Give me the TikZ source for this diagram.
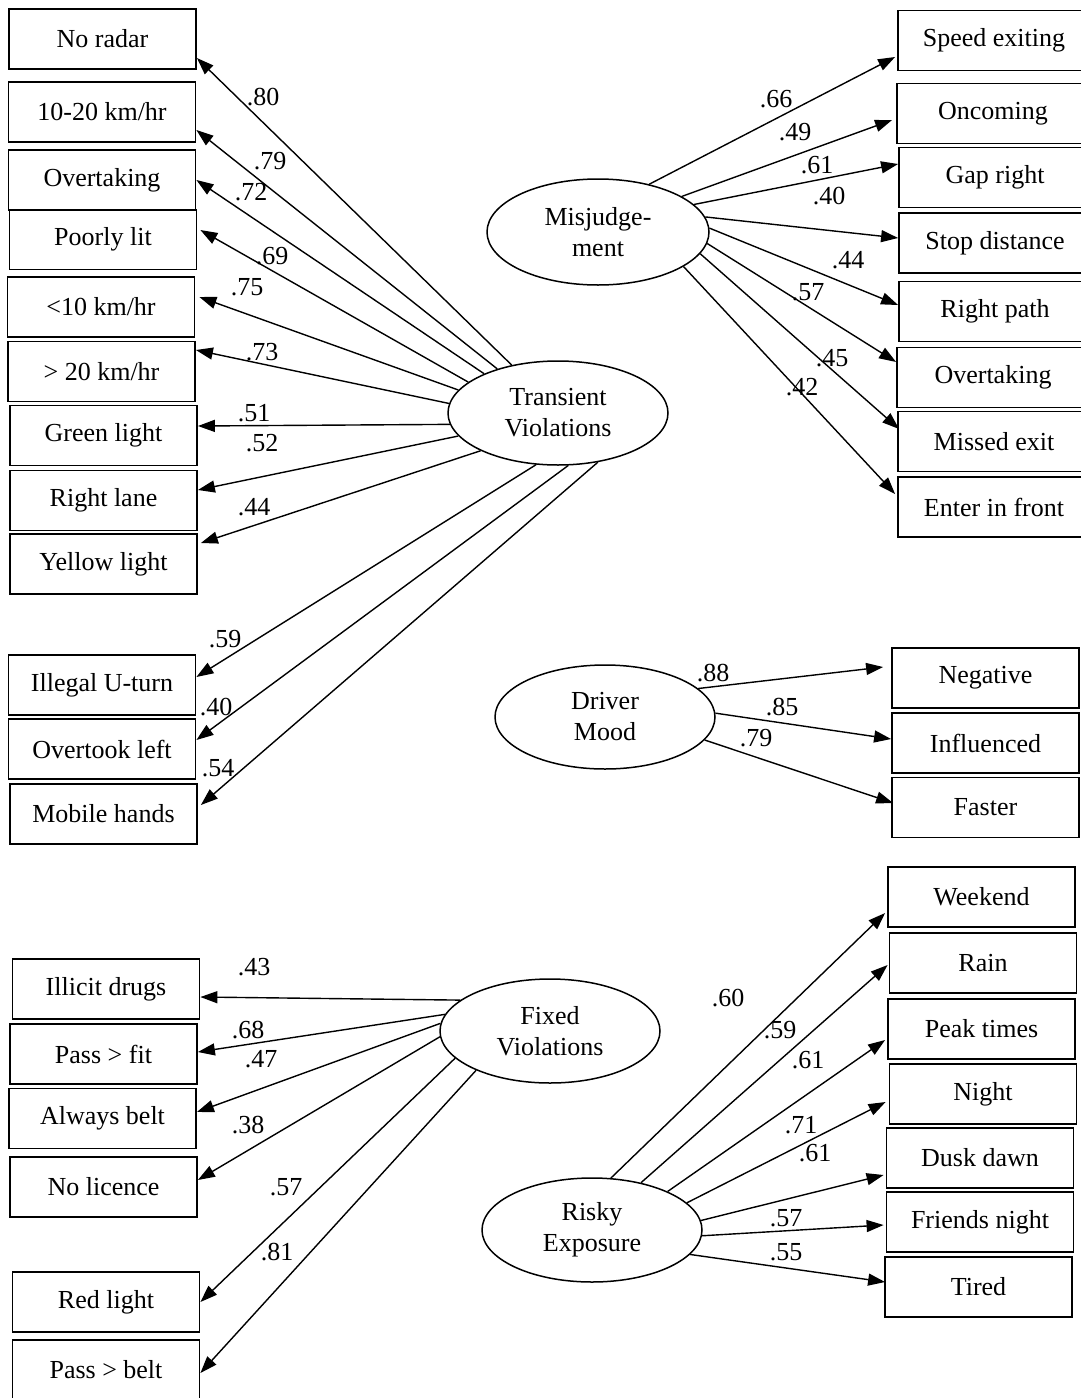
\documentclass[tikz,border=0pt]{standalone}
\usepackage{fontspec}
\setmainfont{Liberation Serif}
\usetikzlibrary{arrows.meta,shapes.geometric}
\begin{document}
\begin{tikzpicture}[x=1pt,y=-1pt,
  every node/.style={font=\fontsize{26}{31}\selectfont},
  box/.style={draw,line width=1.8pt,rectangle,inner sep=0pt,minimum width=187pt,minimum height=60pt},
  widebox/.style={box,minimum width=192pt},
  factor/.style={draw,line width=1.5pt,ellipse,inner sep=0pt,minimum width=220pt,minimum height=104pt,align=center},
  load/.style={line width=1.4pt,-{Triangle[length=17pt,width=12pt]}},
  coef/.style={inner sep=0pt}]
\useasboundingbox (0,0) rectangle (1080,1398);

% ---------------- Transient Violations ----------------
\node[factor] (tv) at (558,413) {Transient\\Violations};
\node[box] (nr)  at (102.5,39)   {No radar};
\node[box] (k1)  at (102,112)    {10-20 km/hr};
\node[box] (ov1) at (102,180)    {Overtaking};
\node[box] (pl)  at (103,239.5)  {Poorly lit};
\node[box] (k2)  at (101,307)    {<10 km/hr};
\node[box] (k3)  at (101.5,371.5){> 20 km/hr};
\node[box] (gl)  at (103.5,435.5){Green light};
\node[box] (rl)  at (103.5,500.5){Right lane};
\node[box] (yl)  at (103.5,564)  {Yellow light};
\node[box] (ut)  at (102,685)    {Illegal U-turn};
\node[box] (otl) at (102,749)    {Overtook left};
\node[box] (mh)  at (103.5,814)  {Mobile hands};

\draw[load] (tv.134.4) -- ([yshift=-19pt]nr.east);
\draw[load] (tv.144.8) -- ([yshift=-18pt]k1.east);
\draw[load] (tv.152.8) -- (ov1.east);
\draw[load] (tv.161.8) -- ([yshift=9.5pt,xshift=3pt]pl.east);
\draw[load] (tv.167.4) -- ([yshift=10pt,xshift=4pt]k2.east);
\draw[load] (tv.175.8) -- ([yshift=21.5pt]k3.east);
\draw[load] (tv.186.7) -- ([yshift=9.5pt]gl.east);
\draw[load] (tv.193.5) -- ([yshift=10.5pt]rl.east);
\draw[load] (tv.206.9) -- ([yshift=21pt,xshift=3pt]yl.east);
\draw[load] (tv.247.2) -- ([yshift=8pt]ut.east);
\draw[load] (tv.281.3) -- ([yshift=9pt]otl.east);
\draw[load] (tv.309.1) -- ([yshift=9pt,xshift=3pt]mh.east);

\node[coef] (c01) at (263,97)  {.80};
\node[coef] (c02) at (270,161) {.79};
\node[coef] (c03) at (251,192) {.72};
\node[coef] (c04) at (272,256) {.69};
\node[coef] (c05) at (247,287) {.75};
\node[coef] (c06) at (262,352) {.73};
\node[coef] (c07) at (254,413) {.51};
\node[coef] (c08) at (262,443) {.52};
\node[coef] (c09) at (254,507) {.44};
\node[coef] (c10) at (225,639) {.59};
\node[coef] (c11) at (216,707) {.40};
\node[coef] (c12) at (218,768) {.54};

% ---------------- Misjudgement ----------------
\node[factor,minimum width=222pt,minimum height=106pt] (mj) at (598,232) {Misjudge-\\ment};
\node[widebox] (se) at (994,40.5)  {Speed exiting};
\node[widebox] (on) at (993,113.5) {Oncoming};
\node[widebox] (gr) at (995,177.5) {Gap right};
\node[widebox] (sd) at (995,243)   {Stop distance};
\node[widebox] (rp) at (995,311.5) {Right path};
\node[widebox] (ov2) at (993,377.5){Overtaking};
\node[widebox] (me) at (994,441.5) {Missed exit};
\node[widebox] (ef) at (994,507)   {Enter in front};

\draw[load] (mj.43.9)  -- ([yshift=-16.5pt,xshift=-2pt]se.west);
\draw[load] (mj.23.9)  -- ([yshift=-6.5pt,xshift=-4pt]on.west);
\draw[load] (mj.16.4)  -- ([yshift=13.5pt]gr.west);
\draw[load] (mj.8.0)   -- ([yshift=5pt]sd.west);
\draw[load] (mj.2.1)   -- ([yshift=6.5pt]rp.west);
\draw[load] (mj.-6.4)  -- ([yshift=15.5pt]ov2.west);
\draw[load] (mj.-12.1) -- ([yshift=12.5pt,xshift=2pt]me.west);
\draw[load] (mj.-22.1) -- ([yshift=13pt,xshift=-2pt]ef.west);

\node[coef] (c13) at (776,99)  {.66};
\node[coef] (c14) at (795,132) {.49};
\node[coef] (c15) at (817,165) {.61};
\node[coef] (c16) at (829,196) {.40};
\node[coef] (c17) at (848,260) {.44};
\node[coef] (c18) at (808,292) {.57};
\node[coef] (c19) at (832,358) {.45};
\node[coef] (c20) at (802,387) {.42};

% ---------------- Driver Mood ----------------
\node[factor] (dm) at (605,717) {Driver\\Mood};
\node[box] (ng) at (985.5,678)   {Negative};
\node[box] (in) at (985.5,743)   {Influenced};
\node[box] (fa) at (985.5,807.5) {Faster};

\draw[load] (dm.17.3)  -- ([yshift=11pt,xshift=-8pt]ng.west);
\draw[load] (dm.2.6)   -- ([yshift=4pt]in.west);
\draw[load] (dm.-13.3) -- ([yshift=4.5pt,xshift=2pt]fa.west);

\node[coef] (c21) at (713,673) {.88};
\node[coef] (c22) at (782,707) {.85};
\node[coef] (c23) at (756,738) {.79};

% ---------------- Fixed Violations ----------------
\node[factor] (fv) at (550,1031) {Fixed\\Violations};
\node[box] (id) at (106,989)    {Illicit drugs};
\node[box] (pf) at (103.5,1054) {Pass > fit};
\node[box] (ab) at (102.5,1118.5){Always belt};
\node[box] (nl) at (103.5,1187) {No licence};
\node[box] (rd) at (106,1302)   {Red light};
\node[box] (pb) at (106,1370)   {Pass > belt};

\draw[load] (fv.161.9) -- ([yshift=-8pt]id.east);
\draw[load] (fv.171.3) -- ([yshift=2pt]pf.east);
\draw[load] (fv.176.4) -- ([yshift=6.5pt]ab.east);
\draw[load] (fv.183.6) -- ([yshift=7pt]nl.east);
\draw[load] (fv.196.4) -- (rd.east);
\draw[load] (fv.208.1) -- ([yshift=-3pt]pb.east);

\node[coef] (c24) at (254,967)  {.43};
\node[coef] (c25) at (248,1030) {.68};
\node[coef] (c26) at (261,1059) {.47};
\node[coef] (c27) at (248,1125) {.38};
\node[coef] (c28) at (286,1187) {.57};
\node[coef] (c29) at (277,1252) {.81};

% ---------------- Risky Exposure ----------------
\node[factor] (re) at (592,1230) {Risky\\Exposure};
\node[box] (wk) at (981.5,897)  {Weekend};
\node[box] (rn) at (983,963)    {Rain};
\node[box] (pk) at (981.5,1029) {Peak times};
\node[box] (nt) at (983,1094)   {Night};
\node[box] (dd) at (980,1158)   {Dusk dawn};
\node[box] (fn) at (980,1222)   {Friends night};
\node[box] (td) at (978.5,1287) {Tired};

\draw[load] (re.70.0)  -- ([yshift=-16pt,xshift=-2pt]wk.west);
\draw[load] (re.44.4)  -- ([yshift=-2pt,xshift=-1pt]rn.west);
\draw[load] (re.27.8)  -- ([yshift=-11pt,xshift=-2pt]pk.west);
\draw[load] (re.16.1)  -- ([yshift=-8pt,xshift=-3pt]nt.west);
\draw[load] (re.5.7)   -- ([yshift=-17pt,xshift=-2pt]dd.west);
\draw[load] (re.-3.6)  -- ([yshift=-3pt,xshift=-2pt]fn.west);
\draw[load] (re.-14.7) -- ([yshift=5pt,xshift=1pt]td.west);

\node[coef] (c30) at (728,998)  {.60};
\node[coef] (c31) at (780,1030) {.59};
\node[coef] (c32) at (808,1060) {.61};
\node[coef] (c33) at (801,1125) {.71};
\node[coef] (c34) at (815,1153) {.61};
\node[coef] (c35) at (786,1218) {.57};
\node[coef] (c36) at (786,1252) {.55};
\end{tikzpicture}
\end{document}
